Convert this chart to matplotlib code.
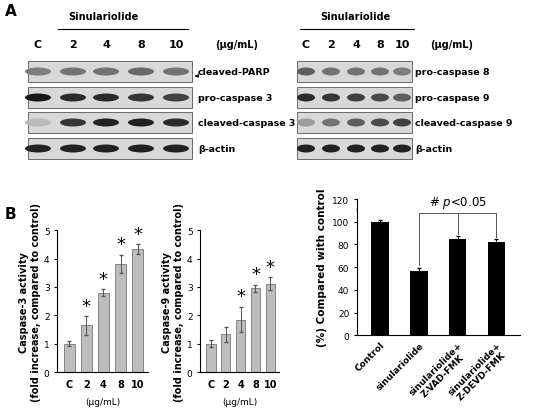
import matplotlib.pyplot as plt
from matplotlib.patches import Rectangle, Ellipse

lanes = ["C", "2", "4", "8", "10"]

# western blot band darkness (0 = none, 1 = black)
left_rows = ["cleaved-PARP", "pro-caspase 3", "cleaved-caspase 3", "β-actin"]
left_bands = [
    [0.45, 0.5, 0.5, 0.55, 0.5],
    [0.95, 0.85, 0.85, 0.8, 0.75],
    [0.15, 0.8, 0.9, 0.9, 0.85],
    [0.9, 0.9, 0.9, 0.9, 0.9],
]
right_rows = ["pro-caspase 8", "pro-caspase 9", "cleaved-caspase 9", "β-actin"]
right_bands = [
    [0.6, 0.5, 0.5, 0.5, 0.45],
    [0.85, 0.8, 0.75, 0.7, 0.6],
    [0.3, 0.5, 0.6, 0.7, 0.75],
    [0.9, 0.9, 0.9, 0.9, 0.9],
]

casp3 = [1.0, 1.65, 2.8, 3.82, 4.33]
casp3_err = [0.08, 0.33, 0.12, 0.32, 0.17]
casp3_sig = [False, True, True, True, True]
casp9 = [1.0, 1.33, 1.85, 2.95, 3.12]
casp9_err = [0.12, 0.27, 0.45, 0.13, 0.22]
casp9_sig = [False, False, True, True, True]

c_labels = ["Control", "sinulariolide", "sinulariolide+\nZ-VAD-FMK", "sinulariolide+\nZ-DEVD-FMK"]
c_vals = [100, 57, 84.5, 82.5]
c_err = [1.5, 2.5, 3, 2]

fig = plt.figure(figsize=(5.5, 4.1), dpi=100)
ov = fig.add_axes([0, 0, 1, 1])
ov.set_xlim(0, 550)
ov.set_ylim(410, 0)
ov.axis("off")

row_y = [62, 88, 113, 139]
row_h = 21


def blot(x0, x1, lane_x, rows, bands, bw, lab_x):
    for y, r, b in zip(row_y, rows, bands):
        ov.add_patch(Rectangle((x0, y), x1 - x0, row_h, fc="#d8d8d8", ec="#555555", lw=0.6))
        for lx, d in zip(lane_x, b):
            g = 0.85 - 0.8 * d
            ov.add_patch(Ellipse((lx, y + row_h / 2), bw, 8, fc=(g, g, g), ec="none"))
        ov.text(lab_x, y + row_h / 2, r, fontsize=6.8, fontweight="bold", va="center")


fs = 7
ov.text(5, 12, "A", fontsize=11, fontweight="bold", va="center")
left_x = [38, 73, 106, 141, 176]
ov.text(103, 20, "Sinulariolide", fontsize=fs, fontweight="bold", ha="center")
ov.plot([58, 188], [30, 30], color="k", lw=0.8)
for lx, l in zip(left_x, lanes):
    ov.text(lx, 45, l, fontsize=fs + 1, fontweight="bold", ha="center", va="center")
ov.text(215, 45, "(µg/mL)", fontsize=fs, fontweight="bold", va="center")
blot(28, 192, left_x, left_rows, left_bands, 26, 198)
ov.annotate("", xy=(192, 77), xytext=(199, 77),
            arrowprops=dict(arrowstyle="-|>", color="k", lw=0.6, mutation_scale=5))

right_x = [306, 331, 356, 380, 402]
ov.text(355, 20, "Sinulariolide", fontsize=fs, fontweight="bold", ha="center")
ov.plot([300, 414], [30, 30], color="k", lw=0.8)
for lx, l in zip(right_x, lanes):
    ov.text(lx, 45, l, fontsize=fs + 1, fontweight="bold", ha="center", va="center")
ov.text(430, 45, "(µg/mL)", fontsize=fs, fontweight="bold", va="center")
blot(297, 412, right_x, right_rows, right_bands, 18, 415)

ov.text(5, 215, "B", fontsize=11, fontweight="bold", va="center")
ov.text(355, 212, "C", fontsize=11, fontweight="bold", va="center")


def bars(ax, vals, err, sig, ylab):
    x = range(len(vals))
    ax.bar(x, vals, 0.65, color="#bdbdbd", edgecolor="#777777", lw=0.6,
           yerr=err, error_kw=dict(ecolor="#555555", elinewidth=0.7, capsize=1.5))
    for i, (v, e, s) in enumerate(zip(vals, err, sig)):
        if s:
            ax.text(i, v + e + 0.05, "*", fontsize=13, ha="center", va="bottom")
    ax.set_ylim(0, 5)
    ax.set_xlim(-0.7, len(vals) - 0.4)
    ax.set_xticks(list(x))
    ax.set_xticklabels(lanes, fontsize=7, fontweight="bold")
    ax.tick_params(axis="x", length=0, pad=5)
    ax.tick_params(axis="y", labelsize=6.5, length=2)
    ax.set_ylabel(ylab, fontsize=7, fontweight="bold", labelpad=2)
    ax.set_xlabel("(µg/mL)", fontsize=6.5, labelpad=6)
    ax.spines[["top", "right"]].set_visible(False)


ax1 = fig.add_axes([0.104, 0.09, 0.165, 0.346])
bars(ax1, casp3, casp3_err, casp3_sig, "Caspase-3 activity\n(fold increase, compared to control)")
ax2 = fig.add_axes([0.364, 0.09, 0.144, 0.346])
bars(ax2, casp9, casp9_err, casp9_sig, "Caspase-9 activity\n(fold increase, compared to control)")

ax3 = fig.add_axes([0.649, 0.18, 0.296, 0.332])
ax3.bar(range(4), c_vals, 0.45, color="black",
        yerr=c_err, error_kw=dict(ecolor="black", elinewidth=0.7, capsize=1.5))
ax3.set_ylim(0, 120)
ax3.set_yticks(range(0, 121, 20))
ax3.set_xlim(-0.6, 3.6)
ax3.set_xticks(range(4))
ax3.set_xticklabels(c_labels, rotation=45, ha="right", rotation_mode="anchor",
                    fontsize=6.5, fontweight="bold", multialignment="center")
ax3.tick_params(axis="x", length=0)
ax3.tick_params(axis="y", labelsize=6.5, length=2)
ax3.set_ylabel("(%) Compared with control", fontsize=7.5, fontweight="bold")
ax3.spines[["top", "right"]].set_visible(False)
# significance bracket
ax3.plot([1, 1, 3, 3], [62, 108, 108, 87], color="#555555", lw=0.7)
ax3.plot([2, 2], [108, 89], color="#555555", lw=0.7)
ax3.text(2, 110, "# $p$<0.05", fontsize=8.5, ha="center", va="bottom")

fig.savefig("out.png", dpi=100)
